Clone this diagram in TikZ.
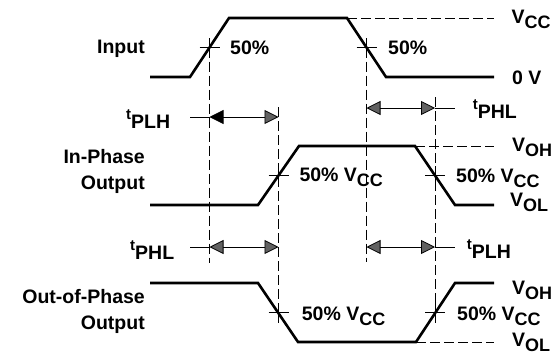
\documentclass[tikz,border=0pt]{standalone}
\usepackage{fontspec}
\setmainfont{Liberation Sans}
\usetikzlibrary{arrows.meta}

\newcommand{\lvl}[2]{#1\raisebox{-5pt}{\fontsize{18}{18}\selectfont #2}}
\newcommand{\tdl}[1]{{\fontsize{15}{15}\selectfont t}\raisebox{-9pt}{#1}}

\begin{document}
\begin{tikzpicture}[x=1pt, y=-1pt,
        wave/.style={line width=2.6pt},
        guide/.style={line width=0.8pt, dash pattern=on 10pt off 4pt},
        tick/.style={line width=0.8pt},
        dim/.style={line width=0.8pt,
            {Triangle[length=14pt,width=14pt,fill=black!62]}-{Triangle[length=14pt,width=14pt,fill=black!62]}},
        dimsolid/.style={line width=0.8pt,
            {Triangle[length=14pt,width=14pt]}-{Triangle[length=14pt,width=14pt,fill=black!62]}},
        lbl/.style={font=\fontsize{19.5}{26}\selectfont\bfseries, inner sep=0pt}
    ]
        \useasboundingbox (0,0) rectangle (557,354);
        % waveforms
        \draw[wave] (150,77) -- (190,77) -- (229,18) -- (347,18) -- (386,77) -- (494,77);
        \draw[wave] (150,205) -- (258,205) -- (299,146) -- (415,146) -- (455,205) -- (494,205);
        \draw[wave] (150,283) -- (258,283) -- (298,342) -- (416,342) -- (455,283) -- (494,283);
        \draw[guide] (347,18) -- (494,18);
        \draw[guide] (415,146) -- (494,146);
        \draw[guide] (416,342) -- (494,342);
        % 50% points
        \coordinate (inR) at (209.5,47.5);
        \coordinate (inF) at (366.5,47.5);
        \coordinate (ipR) at (278.5,175.5);
        \coordinate (ipF) at (435,175.5);
        \coordinate (opF) at (278.5,312.5);
        \coordinate (opR) at (435,312.5);
        \foreach \p in {inR,inF,ipR,ipF,opF,opR}
            \draw[tick] ([xshift=-10pt]\p) -- ([xshift=10pt]\p)
                        ([yshift=-10pt]\p) -- ([yshift=10pt]\p);
        % guide ends
        \coordinate (gA) at (209.5,263);
        \coordinate (gB) at (366.5,262);
        \coordinate (gC0) at (278.5,107);
        \coordinate (gC1) at (278.5,322);
        \coordinate (gD0) at (435,97);
        \coordinate (gD1) at (435,322);
        \draw[guide] (inR) -- (gA);
        \draw[guide] (inF) -- (gB);
        \draw[guide] (gC0) -- (gC1);
        \draw[guide] (gD0) -- (gD1);
        % delay arrows
        \coordinate (e1) at (190,117);
        \coordinate (a1) at (209.5,117);
        \coordinate (b1) at (278.5,117);
        \coordinate (a2) at (366.5,108);
        \coordinate (b2) at (435,108);
        \coordinate (e2) at (455,108);
        \coordinate (e3) at (190,247);
        \coordinate (a3) at (209.5,247);
        \coordinate (b3) at (278.5,247);
        \coordinate (a4) at (366.5,247);
        \coordinate (b4) at (435,247);
        \coordinate (e4) at (455,247);
        \draw[tick] (e1) -- (a1);
        \draw[dimsolid] (a1) -- (b1);
        \draw[dim] (a2) -- (b2);
        \draw[tick] (b2) -- (e2);
        \draw[tick] (e3) -- (a3);
        \draw[dim] (a3) -- (b3);
        \draw[dim] (a4) -- (b4);
        \draw[tick] (b4) -- (e4);
        % labels
        \node[lbl, anchor=base east] (input) at (145,53.3) {Input};
        \node[lbl, anchor=base west] (inp50a) at (230,54) {50\%};
        \node[lbl, anchor=base west] (inp50b) at (388,54) {50\%};
        \node[lbl, anchor=base west] (vcc) at (511.5,23.3) {\lvl{V}{CC}};
        \node[lbl, anchor=base west] (zero) at (512,84) {0 V};
        \node[lbl, anchor=base west] (tplhA) at (126,119.3) {\tdl{PLH}};
        \node[lbl, anchor=base west] (tphlA) at (472.7,109.3) {\tdl{PHL}};
        \node[lbl, anchor=east, align=right] (inph) at (145,171) {In-Phase\\Output};
        \node[lbl, anchor=base west] (vohA) at (512,151.7) {\lvl{V}{OH}};
        \node[lbl, anchor=base west] (midA) at (299.3,181) {50\% \lvl{V}{CC}};
        \node[lbl, anchor=base west] (rtA) at (456,182.7) {50\% \lvl{V}{CC}};
        \node[lbl, anchor=base west] (volA) at (510,206.7) {\lvl{V}{OL}};
        \node[lbl, anchor=base west] (tphlB) at (130,250) {\tdl{PHL}};
        \node[lbl, anchor=base west] (tplhB) at (466.7,249.3) {\tdl{PLH}};
        \node[lbl, anchor=east, align=right] (outph) at (145,311) {Out-of-Phase\\Output};
        \node[lbl, anchor=base west] (vohB) at (512,294) {\lvl{V}{OH}};
        \node[lbl, anchor=base west] (midB) at (301.7,320) {50\% \lvl{V}{CC}};
        \node[lbl, anchor=base west] (rtB) at (457,320) {50\% \lvl{V}{CC}};
        \node[lbl, anchor=base west] (volB) at (512,346) {\lvl{V}{OL}};
    \end{tikzpicture}
\end{document}
